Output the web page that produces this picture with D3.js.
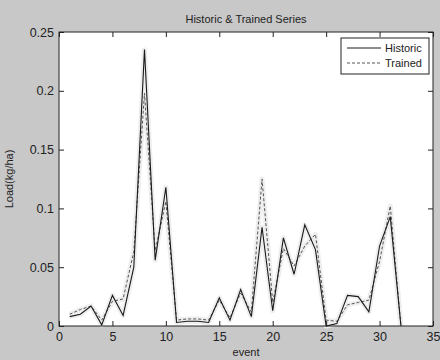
<!DOCTYPE html>
<html lang="en">
<head>
<meta charset="UTF-8">
<script src="https://d3js.org/d3.v7.min.js"></script>
<title>Historic & Trained Series</title>
<style>
  body { margin: 0; background: #c8c8c8; }
  text { font-family: "Liberation Sans", Arial, sans-serif; fill: #222; }
</style>
</head>
<body>
<svg id="chart" width="440" height="360"></svg>
<script>
// event numbers and the two load series (kg/ha)
var events = d3.range(1, 33);
var historic = [0.008, 0.010, 0.017, 0.001, 0.026, 0.009, 0.050, 0.235, 0.056, 0.118,
                0.003, 0.004, 0.004, 0.003, 0.024, 0.005, 0.031, 0.008, 0.084, 0.013,
                0.075, 0.044, 0.086, 0.065, 0.000, 0.002, 0.026, 0.025, 0.012, 0.068,
                0.093, 0.000];
var trained = [0.010, 0.014, 0.017, 0.005, 0.021, 0.023, 0.063, 0.198, 0.064, 0.106,
               0.005, 0.006, 0.006, 0.005, 0.022, 0.007, 0.028, 0.012, 0.125, 0.020,
               0.066, 0.051, 0.068, 0.078, 0.005, 0.004, 0.018, 0.020, 0.022, 0.055,
               0.102, 0.000];
var xTicks = [0, 5, 10, 15, 20, 25, 30, 35];
var yTicks = [0, 0.05, 0.1, 0.15, 0.2, 0.25];

var svg = d3.select('#chart');
// plot box (window.top is taken, so use other names)
var pL = 59, pR = 433, pT = 32, pB = 326;

var x = d3.scaleLinear().domain([0, 35]).range([pL, pR]);
var y = d3.scaleLinear().domain([0, 0.25]).range([pB, pT]);

svg.append('rect')
    .attr('x', pL).attr('y', pT)
    .attr('width', pR - pL).attr('height', pB - pT)
    .attr('fill', '#fff');

var line = d3.line()
    .x(function(d, i){ return x(events[i]); })
    .y(function(d){ return y(d); });

// soft halo under each trace
[historic, trained].forEach(function(s){
    svg.append('path').datum(s)
        .attr('d', line)
        .attr('fill', 'none')
        .attr('stroke', '#eeeeee')
        .attr('stroke-width', 5)
        .attr('stroke-linejoin', 'round');
});

svg.append('path').datum(trained)
    .attr('d', line)
    .attr('fill', 'none')
    .attr('stroke', '#555')
    .attr('stroke-width', 1)
    .attr('stroke-dasharray', '3,2');

svg.append('path').datum(historic)
    .attr('d', line)
    .attr('fill', 'none')
    .attr('stroke', '#1a1a1a')
    .attr('stroke-width', 1.1);

// axes, matlab style: ticks pointing inward on all four sides
var xAxis = d3.axisBottom(x).tickValues(xTicks).tickSize(-5).tickPadding(6)
    .tickFormat(d3.format('d'));
var yAxis = d3.axisLeft(y).tickValues(yTicks).tickSize(-5).tickPadding(5)
    .tickFormat(function(d){ return String(+d.toFixed(2)); });

var gx = svg.append('g').attr('transform', 'translate(0,' + pB + ')').call(xAxis);
var gy = svg.append('g').attr('transform', 'translate(' + pL + ',0)').call(yAxis);
svg.append('g').attr('transform', 'translate(0,' + pT + ')')
    .call(d3.axisTop(x).tickValues(xTicks).tickSize(-5).tickFormat(''));
svg.append('g').attr('transform', 'translate(' + pR + ',0)')
    .call(d3.axisRight(y).tickValues(yTicks).tickSize(-5).tickFormat(''));

svg.selectAll('.domain').remove();
svg.selectAll('.tick line').attr('stroke', '#222');
[gx, gy].forEach(function(g){
    g.selectAll('text').style('font-size', '12.5px')
        .style('font-family', '"Liberation Sans", Arial, sans-serif').attr('fill', '#333');
});

svg.append('rect')
    .attr('x', pL).attr('y', pT)
    .attr('width', pR - pL).attr('height', pB - pT)
    .attr('fill', 'none').attr('stroke', '#222').attr('stroke-width', 1);

svg.append('text')
    .attr('x', (pL + pR) / 2).attr('y', 23)
    .attr('text-anchor', 'middle')
    .style('font-size', '11px')
    .text('Historic & Trained Series');

svg.append('text')
    .attr('x', (pL + pR) / 2).attr('y', 356)
    .attr('text-anchor', 'middle')
    .style('font-size', '11px')
    .text('event');

svg.append('text')
    .attr('transform', 'translate(13,' + ((pT + pB) / 2) + ') rotate(-90)')
    .attr('text-anchor', 'middle')
    .style('font-size', '11px')
    .text('Load(kg/ha)');

// legend box
var legend = svg.append('g');
legend.append('rect')
    .attr('x', 341).attr('y', 38).attr('width', 88).attr('height', 36)
    .attr('fill', '#fff').attr('stroke', '#222');
var entries = [{name: 'Historic', dash: null, color: '#1a1a1a'},
               {name: 'Trained', dash: '3,2', color: '#555'}];
entries.forEach(function(e, i){
    var yy = 48 + i * 15;
    legend.append('line')
        .attr('x1', 347).attr('x2', 381).attr('y1', yy).attr('y2', yy)
        .attr('stroke', e.color).attr('stroke-dasharray', e.dash);
    legend.append('text')
        .attr('x', 385).attr('y', yy + 4)
        .style('font-size', '11px')
        .text(e.name);
});
</script>
</body>
</html>
